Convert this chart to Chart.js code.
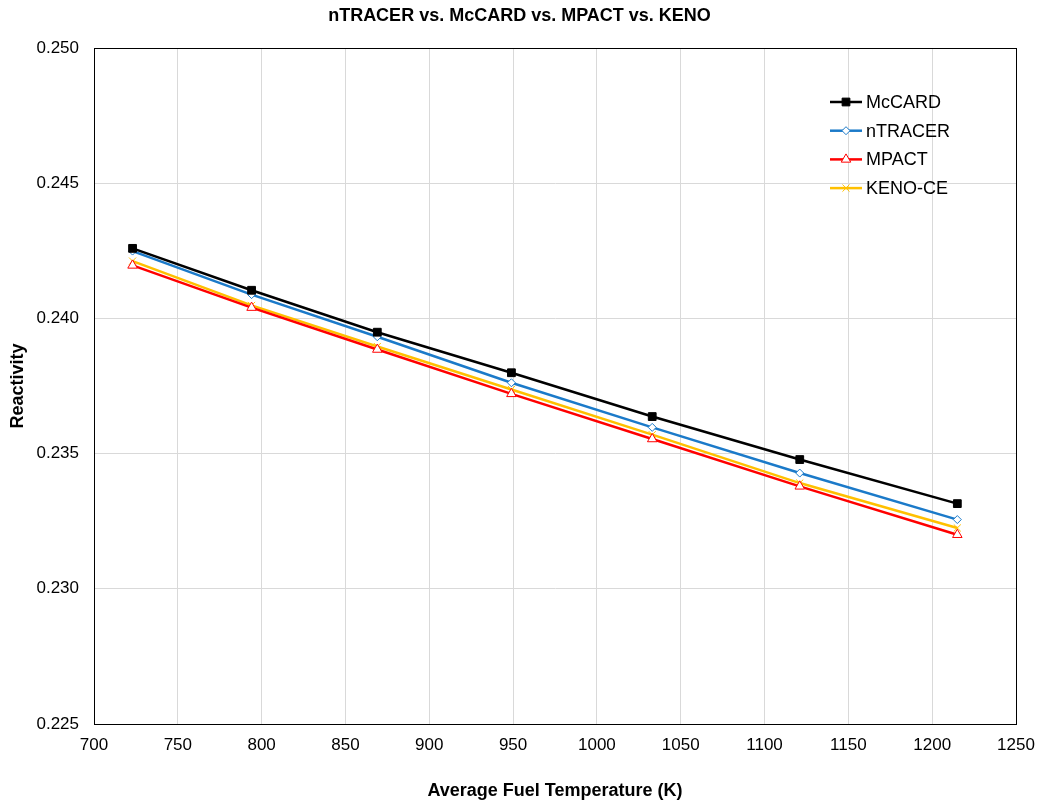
<!DOCTYPE html>
<html>
<head>
<meta charset="utf-8">
<script src="https://cdn.jsdelivr.net/npm/chart.js@4"></script>
<style>
  body { margin: 0; background: #fff; }
  #wrap { width: 1039px; height: 805px; }
</style>
</head>
<body>
<div id="wrap"><canvas id="reactChart" width="1039" height="805"></canvas></div>
<script>
// fuel temperature (K)
const temps = [723, 794, 869, 949, 1033, 1121, 1215];
const mccard = [0.24259, 0.24104, 0.23949, 0.23799, 0.23637, 0.23478, 0.23315];
const ntracer = [0.24249, 0.24088, 0.23932, 0.23762, 0.23597, 0.23428, 0.23256];
const mpact = [0.24196, 0.24040, 0.23885, 0.23721, 0.23554, 0.23379, 0.23200];
const keno = [0.24212, 0.24048, 0.23896, 0.23737, 0.23570, 0.23391, 0.23225];
const xTicks = [700, 750, 800, 850, 900, 950, 1000, 1050, 1100, 1150, 1200, 1250];
const yTicks = [0.225, 0.230, 0.235, 0.240, 0.245, 0.250];

const FONT = '"Liberation Sans", Arial, sans-serif';

function pts(ys) {
    return temps.map((t, i) => ({ x: t, y: ys[i] }));
}

// frame around the plot area
const plotBorder = {
    id: 'plotBorder',
    afterDraw(chart) {
        const a = chart.chartArea, c = chart.ctx;
        c.save();
        c.strokeStyle = '#000';
        c.lineWidth = 1;
        c.strokeRect(Math.round(a.left) + 0.5, Math.round(a.top) + 0.5, Math.round(a.right - a.left), Math.round(a.bottom - a.top));
        c.restore();
    }
};

// legend drawn inside the plot, top right
const innerLegend = {
    id: 'innerLegend',
    afterDraw(chart) {
        const c = chart.ctx;
        const x0 = 830, y0 = 102, gap = 28.7;
        c.save();
        c.font = '18px ' + FONT;
        c.textBaseline = 'middle';
        chart.data.datasets.forEach((ds, i) => {
            const y = y0 + i * gap;
            c.strokeStyle = ds.borderColor;
            c.lineWidth = 2.5;
            c.beginPath();
            c.moveTo(x0, y);
            c.lineTo(x0 + 32, y);
            c.stroke();
            c.fillStyle = ds.backgroundColor;
            c.lineWidth = 1;
            Chart.helpers.drawPoint(c, {
                pointStyle: ds.pointStyle,
                rotation: 0,
                radius: ds.pointRadius,
                borderWidth: 1
            }, x0 + 16, y);
            c.fillStyle = '#000';
            c.fillText(ds.label, x0 + 36, y + 1);
        });
        c.restore();
    }
};

const ctx = document.getElementById('reactChart');

new Chart(ctx, {
    type: 'line',
    data: {
        datasets: [{
            label: 'McCARD',
            data: pts(mccard),
            borderColor: '#000000',
            backgroundColor: '#000000',
            pointStyle: 'rect',
            pointRadius: 5.5,
            pointBorderWidth: 1,
            borderWidth: 2.5
        }, {
            label: 'nTRACER',
            data: pts(ntracer),
            borderColor: '#1b7ac9',
            backgroundColor: '#ffffff',
            pointStyle: 'rectRot',
            pointRadius: 4,
            pointBorderWidth: 1,
            borderWidth: 2.5
        }, {
            label: 'MPACT',
            data: pts(mpact),
            borderColor: '#ff0000',
            backgroundColor: '#ffffff',
            pointStyle: 'triangle',
            pointRadius: 5.5,
            pointBorderWidth: 1,
            borderWidth: 2.5
        }, {
            label: 'KENO-CE',
            data: pts(keno),
            borderColor: '#ffc000',
            backgroundColor: '#ffc000',
            pointStyle: 'crossRot',
            pointRadius: 5,
            pointBorderWidth: 1,
            borderWidth: 2.5
        }]
    },
    options: {
        responsive: false,
        animation: false,
        layout: { padding: 0 },
        plugins: {
            legend: { display: false },
            tooltip: { enabled: false },
            title: {
                display: true,
                text: 'nTRACER vs. McCARD vs. MPACT vs. KENO',
                color: '#000',
                font: { family: FONT, size: 18, weight: 'bold' },
                padding: { top: 5, bottom: 21.4 }
            }
        },
        scales: {
            x: {
                type: 'linear',
                min: 700,
                max: 1250,
                afterBuildTicks(scale) {
                    scale.ticks = xTicks.map(v => ({ value: v }));
                },
                afterFit(scale) {
                    scale.height = 81;
                    scale.paddingLeft = 0;
                    scale.paddingRight = 23;
                },
                grid: { color: '#d9d9d9', drawTicks: false },
                border: { color: '#000' },
                ticks: {
                    color: '#000',
                    padding: 11,
                    font: { family: FONT, size: 17 },
                    callback: v => String(v)
                },
                title: {
                    display: true,
                    text: 'Average Fuel Temperature (K)',
                    color: '#000',
                    font: { family: FONT, size: 18, weight: 'bold' },
                    padding: { top: 20, bottom: 3 }
                }
            },
            y: {
                min: 0.225,
                max: 0.250,
                afterBuildTicks(scale) {
                    scale.ticks = yTicks.map(v => ({ value: v }));
                },
                afterFit(scale) { scale.width = 94; },
                grid: { color: '#d9d9d9', drawTicks: false },
                border: { color: '#000' },
                ticks: {
                    color: '#000',
                    padding: 15,
                    font: { family: FONT, size: 17 },
                    callback: v => v.toFixed(3)
                },
                title: {
                    display: true,
                    text: 'Reactivity',
                    color: '#000',
                    font: { family: FONT, size: 18, weight: 'bold' },
                    padding: { top: 7, bottom: 0 }
                }
            }
        }
    },
    plugins: [plotBorder, innerLegend]
});
</script>
</body>
</html>
